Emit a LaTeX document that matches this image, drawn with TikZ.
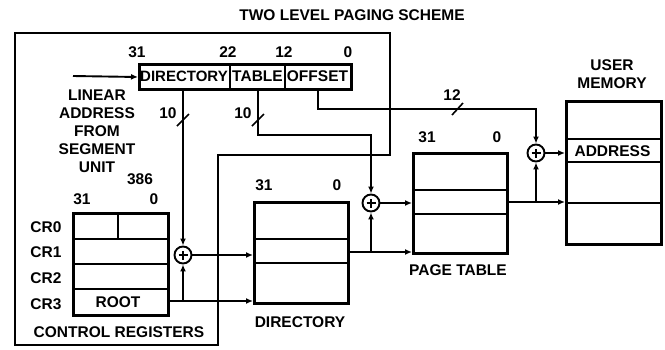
\documentclass[tikz,border=0pt]{standalone}
\usepackage{fontspec}
\setmainfont{Liberation Sans}
\usetikzlibrary{arrows.meta,calc}
\begin{document}
\begin{tikzpicture}[x=1pt,y=-1pt,
  lbl/.style={font=\fontsize{15.5}{18}\selectfont\bfseries, inner sep=0pt, align=center},
  narrow/.style={font=\fontsize{15}{18}\selectfont\bfseries},
  regbox/.style={draw, line width=3pt, inner sep=0pt, anchor=north west},
  divider/.style={line width=2.2pt},
  conn/.style={line width=1.9pt, -{Latex[length=7pt,width=6pt]}},
  adder/.style={circle, draw, line width=1.9pt, minimum size=17pt, inner sep=0pt,
    path picture={\draw[line width=1.9pt] (path picture bounding box.center) ++(-4.5pt,0) -- ++(9pt,0)
      (path picture bounding box.center) ++(0,-4.5pt) -- ++(0,9pt);}},
  slashmark/.style={line width=1.6pt}
]
\useasboundingbox (0,0) rectangle (665,349);

% title
\node[lbl] (title) at (352,15) {TWO LEVEL PAGING SCHEME};

% chip outline
\draw[line width=1.4pt] (15,33) -- (390,33) -- (390,155) -- (218,155) -- (218,345) -- (15,345) -- cycle;

% linear address register
\node[regbox, minimum width=212pt, minimum height=25pt] (la) at (138,63) {};
\draw[divider] (230,63) -- (230,88);
\draw[divider] (285,63) -- (285,88);
\node[lbl, narrow] (fdir) at (184,76) {DIRECTORY};
\node[lbl] (ftbl) at (257.5,76) {TABLE};
\node[lbl] (foff) at (317.5,76) {OFFSET};
\node[lbl] (b31) at (137,52) {31};
\node[lbl] (b22) at (228,52) {22};
\node[lbl] (b12) at (284,52) {12};
\node[lbl] (b0) at (348,52) {0};

\node[lbl] (linear) at (97,131) {LINEAR\\ADDRESS\\FROM\\SEGMENT\\UNIT};
\coordinate (lin) at (73,76);
\draw[conn] (lin) -- (la.west);

% control registers
\node[regbox, minimum width=95pt, minimum height=102pt] (crb) at (72,212) {};
\draw[divider] (72,239) -- (167,239);
\draw[divider] (72,264) -- (167,264);
\draw[divider] (72,289) -- (167,289);
\draw[divider] (118,212) -- (118,239);
\node[lbl] (cr0) at (46,227) {CR0};
\node[lbl] (cr1) at (46,252) {CR1};
\node[lbl] (cr2) at (46,278) {CR2};
\node[lbl] (cr3) at (46,304) {CR3};
\node[lbl] (root) at (118,302) {ROOT};
\node[lbl] (c31) at (82,199) {31};
\node[lbl] (c0) at (154,199) {0};
\node[lbl] (chip) at (140,179) {386};
\node[lbl] (crlbl) at (119,332) {CONTROL REGISTERS};

% directory
\node[regbox, minimum width=94pt, minimum height=101pt] (dirb) at (253,201) {};
\draw[divider] (253,239) -- (347,239);
\draw[divider] (253,263) -- (347,263);
\node[lbl] (d31) at (264,185) {31};
\node[lbl] (d0) at (337,185) {0};
\node[lbl] (dirlbl) at (300,322) {DIRECTORY};

% page table
\node[regbox, minimum width=94pt, minimum height=100pt] (ptb) at (412,152) {};
\draw[divider] (412,190) -- (506,190);
\draw[divider] (412,214) -- (506,214);
\node[lbl] (p31) at (427,137) {31};
\node[lbl] (p0) at (497,137) {0};
\node[lbl] (ptlbl) at (458,270) {PAGE TABLE};

% user memory
\node[regbox, minimum width=95pt, minimum height=143pt] (umb) at (565,100) {};
\draw[divider] (565,139) -- (660,139);
\draw[divider] (565,162) -- (660,162);
\draw[divider] (565,203) -- (660,203);
\node[lbl] (addr) at (612.5,151) {ADDRESS};
\node[lbl] (umlbl) at (612,74) {USER\\MEMORY};

% adders
\node[adder] (add1) at (183,255) {};
\node[adder] (add2) at (371,203) {};
\node[adder] (add3) at (536,153) {};

% field connectors
\draw[conn] (la.south -| add1) -- (add1.north);
\coordinate (tbl0) at (258,88);
\coordinate (tblk) at (258,135);
\draw[conn] (tbl0) -- (tblk) -| (add2.north);
\coordinate (off0) at (318,88);
\coordinate (offk) at (318,109);
\draw[conn] (off0) -- (offk) -| (add3.north);

% bus width marks
\draw[slashmark] (177,126) -- (189,114);
\node[lbl] (w1) at (168,113) {10};
\draw[slashmark] (252,126) -- (264,114);
\node[lbl] (w2) at (243,113) {10};
\draw[slashmark] (452,115) -- (463,103);
\node[lbl] (w3) at (452,95) {12};

% level 1
\draw[conn] (add1.east) -- (add1.east -| dirb.west);
\coordinate (cr3o) at (167,301);
\draw[conn] (cr3o) -- (cr3o -| dirb.west);
\draw[conn] (add1 |- cr3o) -- (add1.south);

% level 2
\draw[conn] (add2.east) -- (add2.east -| ptb.west);
\coordinate (diro) at (347,252);
\draw[conn] (diro) -- (diro -| ptb.west);
\draw[conn] (add2 |- diro) -- (add2.south);

% memory
\draw[conn] (add3.east) -- (add3.east -| umb.west);
\coordinate (pto) at (506,202);
\draw[conn] (pto) -- (pto -| umb.west);
\draw[conn] (add3 |- pto) -- (add3.south);
\end{tikzpicture}
\end{document}
